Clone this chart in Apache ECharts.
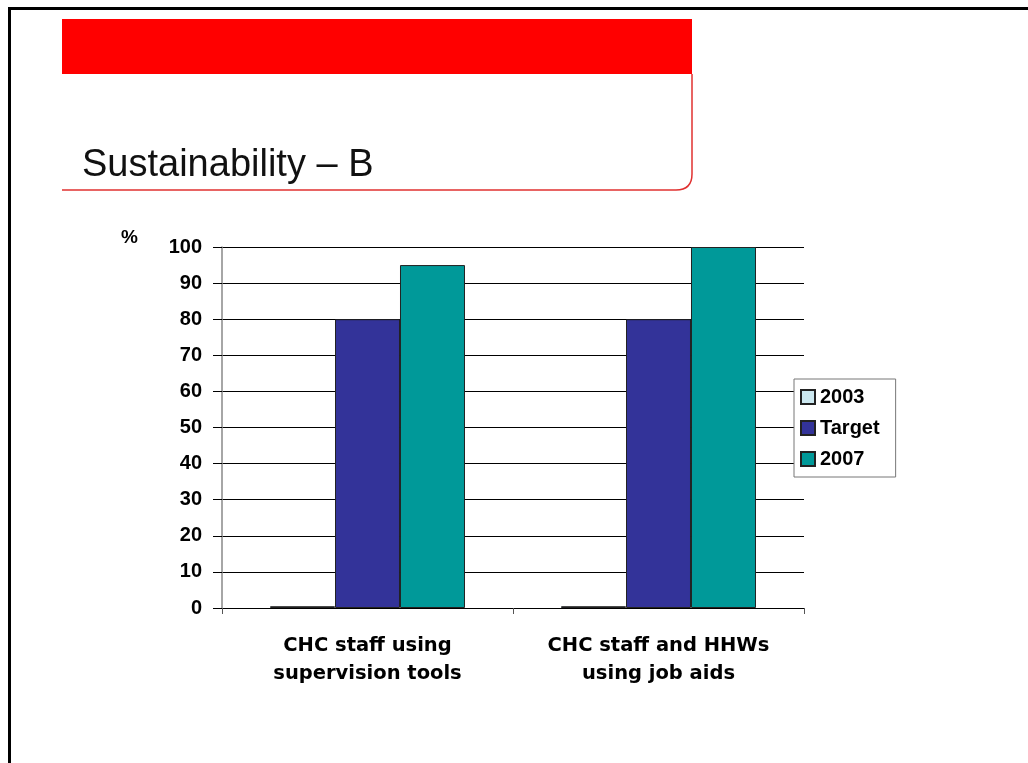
<!DOCTYPE html>
<html>
<head>
<meta charset="utf-8">
<style>
  html, body { margin: 0; padding: 0; background: #ffffff; }
  #chart { width: 1028px; height: 763px; }
</style>
<script src="https://cdn.jsdelivr.net/npm/echarts@6/dist/echarts.min.js"></script>
</head>
<body>
<div id="chart"></div>
<script>
// Indicator categories (two-line labels)
const categories = ['CHC staff using\nsupervision tools', 'CHC staff and HHWs\nusing job aids'];
// Percentages per series
const values2003 = [0.5, 0.5];
const valuesTarget = [80, 80];
const values2007 = [95, 100];
// Value axis ticks
const yTicks = [0, 10, 20, 30, 40, 50, 60, 70, 80, 90, 100];

const FONT = '"Liberation Sans", Arial, sans-serif';
const WIDE_FONT = '"DejaVu Sans", Verdana, sans-serif';
const barBorder = { borderColor: '#222222', borderWidth: 1 };
const headerLine = { stroke: '#e0302f', lineWidth: 1.5, fill: null };

const chart = echarts.init(document.getElementById('chart'), null, { renderer: 'canvas' });

chart.setOption({
  backgroundColor: '#ffffff',
  animation: false,
  textStyle: { fontFamily: FONT },
  graphic: [
    // slide frame (top and left edges)
    { type: 'rect', shape: { x: 8, y: 7, width: 1020, height: 3 }, style: { fill: '#000' } },
    { type: 'rect', shape: { x: 8, y: 7, width: 3, height: 756 }, style: { fill: '#000' } },
    // header band with rounded outline below it
    { type: 'rect', shape: { x: 62, y: 19, width: 630, height: 55 }, style: { fill: '#ff0000' } },
    { type: 'polyline', shape: { points: [[692, 74], [692, 174]] }, style: headerLine },
    { type: 'bezierCurve', shape: { x1: 692, y1: 174, cpx1: 692, cpy1: 190, x2: 676, y2: 190 }, style: headerLine },
    { type: 'polyline', shape: { points: [[676, 190], [62, 190]] }, style: headerLine },
    { type: 'text', left: 82, top: 147,
      style: { text: 'Sustainability \u2013 B', font: '38px ' + FONT, fill: '#111' } },
    // unit label
    { type: 'text', left: 121, top: 228,
      style: { text: '%', font: 'bold 19px ' + FONT, fill: '#000' } }
  ],
  legend: {
    orient: 'vertical',
    left: 794,
    top: 379,
    icon: 'rect',
    itemWidth: 14,
    itemHeight: 14,
    itemGap: 11,
    padding: [8, 16, 8, 6],
    borderColor: '#777',
    borderWidth: 1,
    backgroundColor: '#fff',
    textStyle: { fontFamily: FONT, fontWeight: 'bold', fontSize: 20, color: '#000' },
    data: ['2003', 'Target', '2007']
  },
  grid: { left: 222, top: 247, right: 224, bottom: 155, containLabel: false },
  xAxis: {
    type: 'category',
    data: categories,
    boundaryGap: true,
    axisLine: { show: true, lineStyle: { color: '#000', width: 1 } },
    axisTick: { show: true, length: 6, lineStyle: { color: '#555' } },
    axisLabel: {
      fontFamily: WIDE_FONT, fontWeight: 'bold', fontSize: 19.5, color: '#000',
      lineHeight: 28, margin: 24, interval: 0
    },
    splitLine: { show: false }
  },
  yAxis: {
    type: 'value',
    min: 0, max: 100, interval: 10,
    axisLine: { show: true, lineStyle: { color: '#888', width: 1.5 } },
    axisTick: { show: true, length: 9, lineStyle: { color: '#000' } },
    axisLabel: {
      fontFamily: FONT, fontWeight: 'bold', fontSize: 20, color: '#000', margin: 20,
      formatter: v => (yTicks.indexOf(v) >= 0 ? String(v) : '')
    },
    splitLine: { show: true, lineStyle: { color: '#000', width: 1 } }
  },
  series: [
    { name: '2003', type: 'bar', data: values2003, barGap: '0%', barCategoryGap: '33%',
      itemStyle: Object.assign({ color: '#cce8f0' }, barBorder) },
    { name: 'Target', type: 'bar', data: valuesTarget, barGap: '0%', barCategoryGap: '33%',
      itemStyle: Object.assign({ color: '#333399' }, barBorder) },
    { name: '2007', type: 'bar', data: values2007, barGap: '0%', barCategoryGap: '33%',
      itemStyle: Object.assign({ color: '#009999' }, barBorder) }
  ]
});
</script>
</body>
</html>
